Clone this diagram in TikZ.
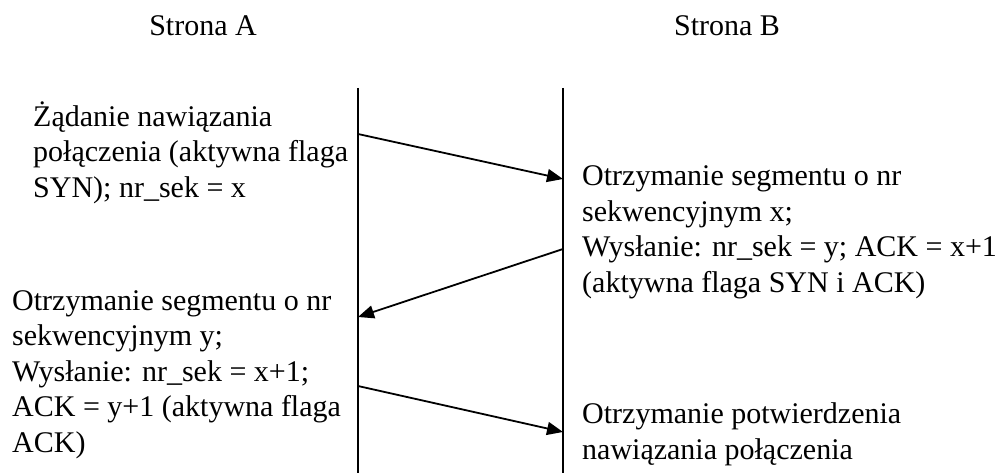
\documentclass[tikz,border=0pt]{standalone}
\usepackage{fontspec}
\setmainfont{Liberation Serif}
\usetikzlibrary{arrows.meta}

\begin{document}
\begin{tikzpicture}[x=1pt,y=-1pt,
  lifeline/.style={line width=1.8pt},
  msg/.style={line width=1.8pt,-{Triangle[length=16pt,width=13pt]}},
  % multi-line labels are anchored at the baseline of their last line
  label/.style={inner sep=0pt,anchor=base west,align=left,
    font=\fontsize{30}{35.5}\selectfont},
  head/.style={inner sep=0pt,anchor=base,font=\fontsize{30}{35.5}\selectfont}]
  \useasboundingbox (0,0) rectangle (1003,473);

  % participants
  \node[head] (hA) at (203,36) {Strona A};
  \node[head] (hB) at (727,36) {Strona B};

  % lifelines
  \coordinate (aTop) at (358,88);
  \coordinate (aBot) at (358,473);
  \coordinate (bTop) at (563,88);
  \coordinate (bBot) at (563,473);
  \draw[lifeline] (aTop) -- (aBot);
  \draw[lifeline] (bTop) -- (bBot);

  % message end points
  \coordinate (s1) at (358,134);
  \coordinate (r1) at (563,179);
  \coordinate (s2) at (563,249);
  \coordinate (r2) at (358,317);
  \coordinate (s3) at (358,386);
  \coordinate (r3) at (563,432);

  \draw[msg] (s1) -- (r1);
  \draw[msg] (s2) -- (r2);
  \draw[msg] (s3) -- (r3);

  % event descriptions
  \node[label] (tA1) at (33,197) {Żądanie nawiązania\\połączenia (aktywna flaga\\SYN); nr\_sek = x};
  \node[label] (tB1) at (582,292) {Otrzymanie segmentu o nr\\sekwencyjnym x;\\Wysłanie: nr\_sek = y; ACK = x+1\\(aktywna flaga SYN i ACK)};
  \node[label] (tA2) at (12,452) {Otrzymanie segmentu o nr\\sekwencyjnym y;\\Wysłanie: nr\_sek = x+1;\\ACK = y+1 (aktywna flaga\\ACK)};
  \node[label] (tB2) at (582,459) {Otrzymanie potwierdzenia\\nawiązania połączenia};
\end{tikzpicture}
\end{document}
